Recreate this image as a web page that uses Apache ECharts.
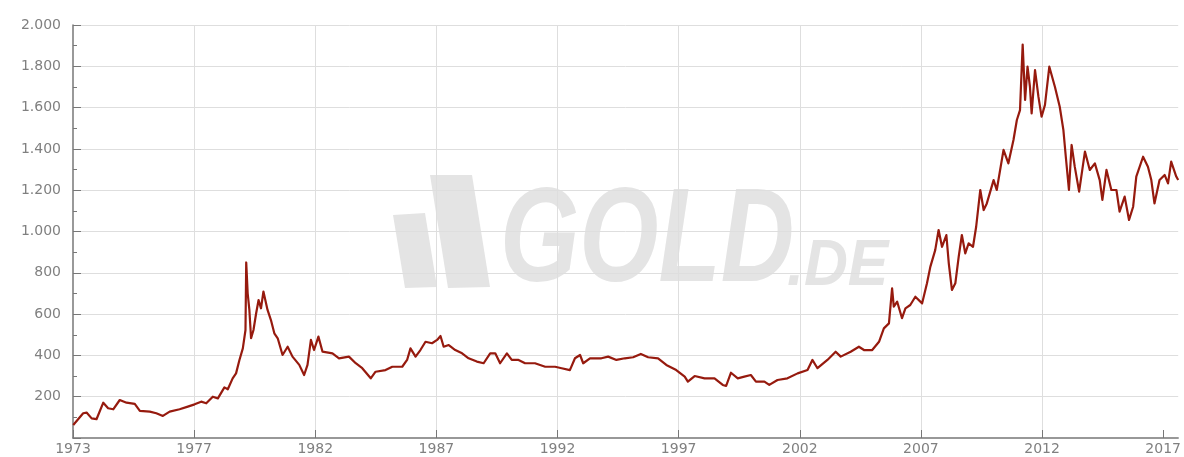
<!DOCTYPE html>
<html>
<head>
<meta charset="utf-8">
<script src="https://cdn.jsdelivr.net/npm/echarts@6/dist/echarts.min.js"></script>
<style>html,body{margin:0;padding:0;background:#fff}#c{width:1184px;height:457px}</style>
</head>
<body>
<div id="c"></div>
<script>
// Gold price (USD/oz), positions on the chart's own year axis
const years = [
1972.01,1972.42,1972.56,1972.77,1972.97,1973.25,1973.45,1973.66,1973.93,1974.21,
1974.55,1974.76,1975.17,1975.44,1975.71,1975.99,1976.40,1976.74,1977.02,1977.29,
1977.50,1977.77,1977.98,1978.25,1978.39,1978.59,1978.73,1978.87,1979.01,1979.12,
1979.15,1979.21,1979.28,1979.35,1979.45,1979.56,1979.66,1979.76,1979.86,1980.03,
1980.17,1980.31,1980.45,1980.65,1980.86,1981.06,1981.34,1981.54,1981.68,1981.82,
1981.95,1982.13,1982.30,1982.71,1982.98,1983.39,1983.67,1983.94,1984.29,1984.49,
1984.90,1985.18,1985.59,1985.79,1985.93,1986.14,1986.34,1986.55,1986.82,1987.03,
1987.17,1987.30,1987.51,1987.78,1988.06,1988.33,1988.67,1988.95,1989.22,1989.43,
1989.63,1989.91,1990.11,1990.39,1990.66,1991.07,1991.49,1991.90,1992.17,1992.51,
1992.72,1992.93,1993.06,1993.34,1993.81,1994.09,1994.43,1994.78,1995.12,1995.44,
1995.74,1996.15,1996.49,1996.90,1997.25,1997.38,1997.66,1998.07,1998.48,1998.82,
1998.96,1999.16,1999.44,1999.71,1999.98,2000.19,2000.54,2000.74,2001.08,2001.49,
2001.91,2002.32,2002.52,2002.73,2003.14,2003.48,2003.69,2004.10,2004.44,2004.65,
2004.99,2005.27,2005.47,2005.68,2005.81,2005.88,2006.02,2006.22,2006.36,2006.56,
2006.77,2007.05,2007.25,2007.39,2007.59,2007.73,2007.87,2008.05,2008.15,2008.28,
2008.42,2008.56,2008.69,2008.83,2008.97,2009.15,2009.28,2009.45,2009.59,2009.72,
2010.00,2010.13,2010.41,2010.61,2010.82,2010.96,2011.09,2011.20,2011.30,2011.40,
2011.50,2011.57,2011.71,2011.85,2011.98,2012.12,2012.30,2012.53,2012.73,2012.88,
2012.98,2013.11,2013.22,2013.35,2013.53,2013.77,2013.97,2014.18,2014.38,2014.49,
2014.66,2014.86,2015.07,2015.20,2015.41,2015.59,2015.76,2015.89,2016.17,2016.37,
2016.51,2016.64,2016.85,2017.06,2017.20,2017.33,2017.54,2017.62
];
const prices = [
63,120,123,95,91,171,144,139,184,171,
165,131,128,120,107,128,139,152,163,176,
168,200,192,245,236,289,313,378,434,523,
850,701,620,483,523,604,668,628,709,620,
571,507,483,402,442,394,354,305,354,475,
426,491,418,410,386,394,362,338,289,321,
329,345,345,378,434,394,426,466,459,475,
494,442,450,426,410,386,370,362,410,410,
362,410,378,378,362,362,345,345,338,329,
386,402,362,386,386,394,378,386,391,407,
391,386,354,329,297,273,300,289,289,257,
252,316,289,297,305,273,273,257,281,289,
313,329,378,338,378,418,394,418,442,426,
426,466,531,555,725,636,660,580,628,644,
684,652,749,830,910,1007,926,983,846,717,
749,878,983,894,943,926,1023,1201,1104,1136,
1249,1201,1395,1330,1443,1540,1588,1905,1637,1798,
1701,1572,1782,1653,1556,1613,1798,1701,1604,1492,
1362,1201,1419,1314,1193,1387,1298,1330,1249,1153,
1298,1201,1201,1096,1169,1056,1120,1266,1362,1314,
1249,1136,1249,1274,1233,1338,1266,1249
];
const xTickValues = [1972,1977,1982,1987,1992,1997,2002,2007,2012,2017];
const xTickLabels = ['1973','1977','1982','1987','1992','1997','2002','2007','2012','2017'];

const seriesData = years.map((y, i) => [y, prices[i]]);
const fmtY = v => {
  if (v === 0) return '';
  if (v >= 1000) return Math.floor(v / 1000) + '.' + String(v % 1000).padStart(3, '0');
  return String(v);
};
const wm = '#e4e4e4';
const chart = echarts.init(document.getElementById('c'), null, {renderer: 'canvas'});
chart.setOption({
  animation: false,
  backgroundColor: '#ffffff',
  grid: {left: 73, right: 2, top: 25, bottom: 19, containLabel: false},
  graphic: [
    {type: 'polygon', z: -10, silent: true,
     shape: {points: [[393, 215], [425, 213], [437, 287], [405, 288]], smooth: 0},
     style: {fill: wm}},
    {type: 'polygon', z: -10, silent: true,
     shape: {points: [[430, 175], [472, 175], [490, 287], [448, 288]]},
     style: {fill: wm}},
    {type: 'text', z: -10, silent: true, x: 500, y: 311, scaleX: 0.76,
     style: {text: 'GOLD', font: 'italic bold 134px "Liberation Sans", Arial, sans-serif',
             fill: wm, align: 'left', verticalAlign: 'bottom'}},
    {type: 'text', z: -10, silent: true, x: 787, y: 299, scaleX: 0.95,
     style: {text: '.DE', font: 'italic bold 64px "Liberation Sans", Arial, sans-serif',
             fill: wm, align: 'left', verticalAlign: 'bottom'}}
  ],
  xAxis: {
    type: 'value', min: 1972, max: 2017.62,
    axisLine: {show: true, lineStyle: {color: '#777777', width: 1.5}},
    axisTick: {show: true, inside: true, length: 8, customValues: xTickValues,
               lineStyle: {color: '#777777'}},
    axisLabel: {show: true, customValues: xTickValues, margin: 4,
                color: '#808080', fontSize: 14, fontFamily: '"DejaVu Sans", Verdana, sans-serif',
                formatter: v => { const i = xTickValues.indexOf(v); return i >= 0 ? xTickLabels[i] : ''; }},
    splitLine: {show: true, showMinLine: false, showMaxLine: false,
                lineStyle: {color: '#dedede', width: 1}}
  },
  yAxis: {
    type: 'value', min: 0, max: 2000, interval: 200,
    axisLine: {show: true, lineStyle: {color: '#777777', width: 1.5}},
    axisTick: {show: true, inside: true, length: 8, lineStyle: {color: '#777777'}},
    minorTick: {show: true, splitNumber: 2, length: 4, lineStyle: {color: '#777777'}},
    axisLabel: {show: true, margin: 12, color: '#808080', fontSize: 14,
                fontFamily: '"DejaVu Sans", Verdana, sans-serif', formatter: fmtY},
    splitLine: {show: true, showMinLine: false, lineStyle: {color: '#dedede', width: 1}}
  },
  series: [{
    type: 'line', data: seriesData, showSymbol: false, smooth: false,
    lineStyle: {color: '#961a0e', width: 2.2, join: 'round'}, z: 5
  }]
});
</script>
</body>
</html>
